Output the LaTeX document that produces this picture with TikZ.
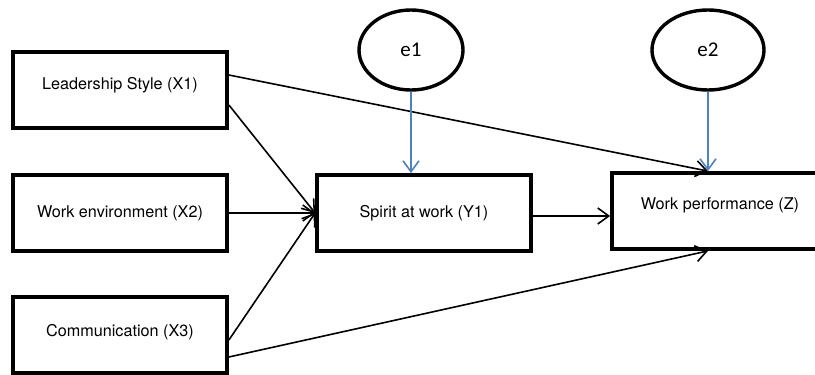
\documentclass[tikz,border=0pt]{standalone}
\usepackage{fontspec}
\setmainfont{TeX Gyre Heros}
\newfontfamily\calib{Carlito}
\usetikzlibrary{arrows.meta,shapes.geometric,calc}
\definecolor{arrowblue}{RGB}{79,129,189}
\begin{document}
\begin{tikzpicture}[x=1pt,y=-1pt,
  box/.style={draw,line width=3.8pt,rectangle,minimum width=214pt,minimum height=76pt,inner sep=0pt,font=\fontsize{16.2}{19}\selectfont},
  errnode/.style={draw,line width=3.4pt,ellipse,minimum height=80pt,inner sep=0pt,font=\calib\fontsize{21}{25}\selectfont},
  path/.style={line width=1.6pt,-{Straight Barb[length=11pt,width=16pt,line width=1.6pt]}},
  bluepath/.style={path,draw=arrowblue}]
\useasboundingbox (0,0) rectangle (815,375);
\node[box,text depth=14pt] (X1) at (120,90) {Leadership Style (X1)};
\node[box] (X2) at (120,213) {Work environment (X2)};
\node[box,text depth=10pt] (X3) at (120,335) {Communication (X3)};
\node[box] (Y1) at (424,213) {Spirit at work (Y1)};
\node[box,minimum width=216pt,text depth=14pt] (Z) at (720,211) {Work performance (Z)};
\node[errnode,minimum width=104pt] (e1) at (411,50) {e1};
\node[errnode,minimum width=112pt] (e2) at (708,50) {e2};
\draw[path] ($(X1.east)+(0,-15)$) -- (Z.north -| e2);
\draw[path] ($(X1.east)+(0,15)$) -- (Y1.west);
\draw[path] (X2.east) -- (Y1.west);
\draw[path] ($(X3.east)+(0,5)$) -- (Y1.west);
\draw[path] ($(X3.east)+(0,22)$) -- (Z.south -| e2);
\draw[path] ($(Y1.east)+(0,3)$) -- ($(Y1.east -| Z.west)+(0,3)$);
\draw[bluepath] (e1.south) -- (Y1.north -| e1);
\draw[bluepath] (e2.south) -- (Z.north -| e2);
\end{tikzpicture}
\end{document}
